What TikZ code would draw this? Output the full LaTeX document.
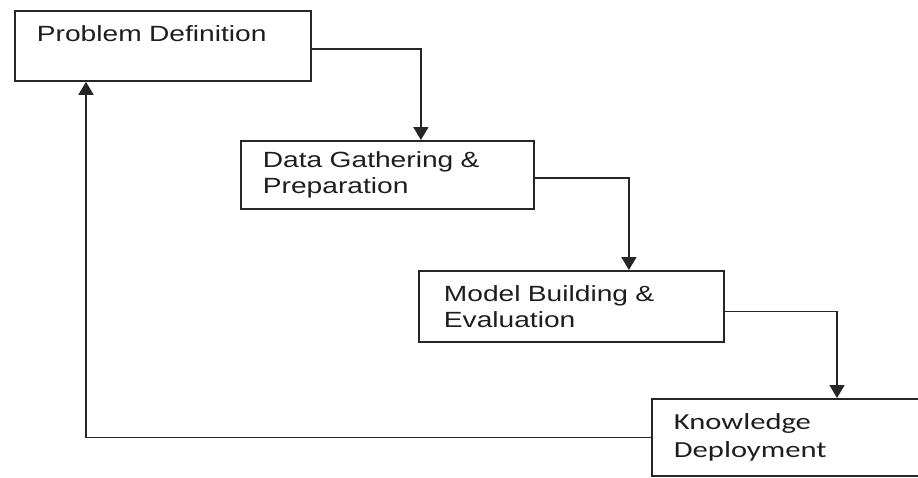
\documentclass[tikz,border=0pt]{standalone}
\usepackage{fontspec}
\setmainfont[FakeStretch=1.28]{Liberation Sans}
\newfontfamily\calfont[FakeStretch=1.33]{Carlito}
\usetikzlibrary{arrows.meta}
\definecolor{lnclr}{RGB}{38,38,38}
\definecolor{txclr}{RGB}{30,30,30}

\begin{document}
\begin{tikzpicture}[x=1pt,y=-1pt,font=\fontsize{22}{26}\selectfont,
      box/.style={draw=lnclr,line width=1.8pt,anchor=north west,
        inner xsep=22pt,inner ysep=0pt,align=left,text=txclr},
      arr/.style={-{Triangle[length=13pt,width=15pt]},line width=1.8pt,draw=lnclr}]
      \useasboundingbox (0,0) rectangle (918,477);
      \clip (0,0) rectangle (918,477);
      \node[box,text width=252pt,minimum height=70pt,text depth=24pt] (prob) at (14,10)
        {Problem Definition};
      \node[box,text width=249pt,minimum height=68pt] (data) at (240,140)
        {Data Gathering \&\\Preparation};
      \node[box,inner xsep=25pt,text width=255pt,minimum height=71pt] (model) at (418,270)
        {Model Building \&\\Evaluation};
      \node[box,text width=235pt,minimum height=77pt,
        font=\calfont\fontsize{23}{28}\selectfont] (deploy) at (651,398)
        {Knowledge\\Deployment};
      \draw[arr] ([yshift=-3pt]prob.east) -| ([xshift=33.5pt]data.north);
      \draw[arr] ([yshift=-3pt]data.east) -| ([xshift=57.5pt]model.north);
      \draw[arr] ([yshift=-5pt]model.east) -| ([xshift=186pt]deploy.north west);
      \draw[arr] (deploy.west) -| ([xshift=72pt]prob.south west);
    \end{tikzpicture}
\end{document}
